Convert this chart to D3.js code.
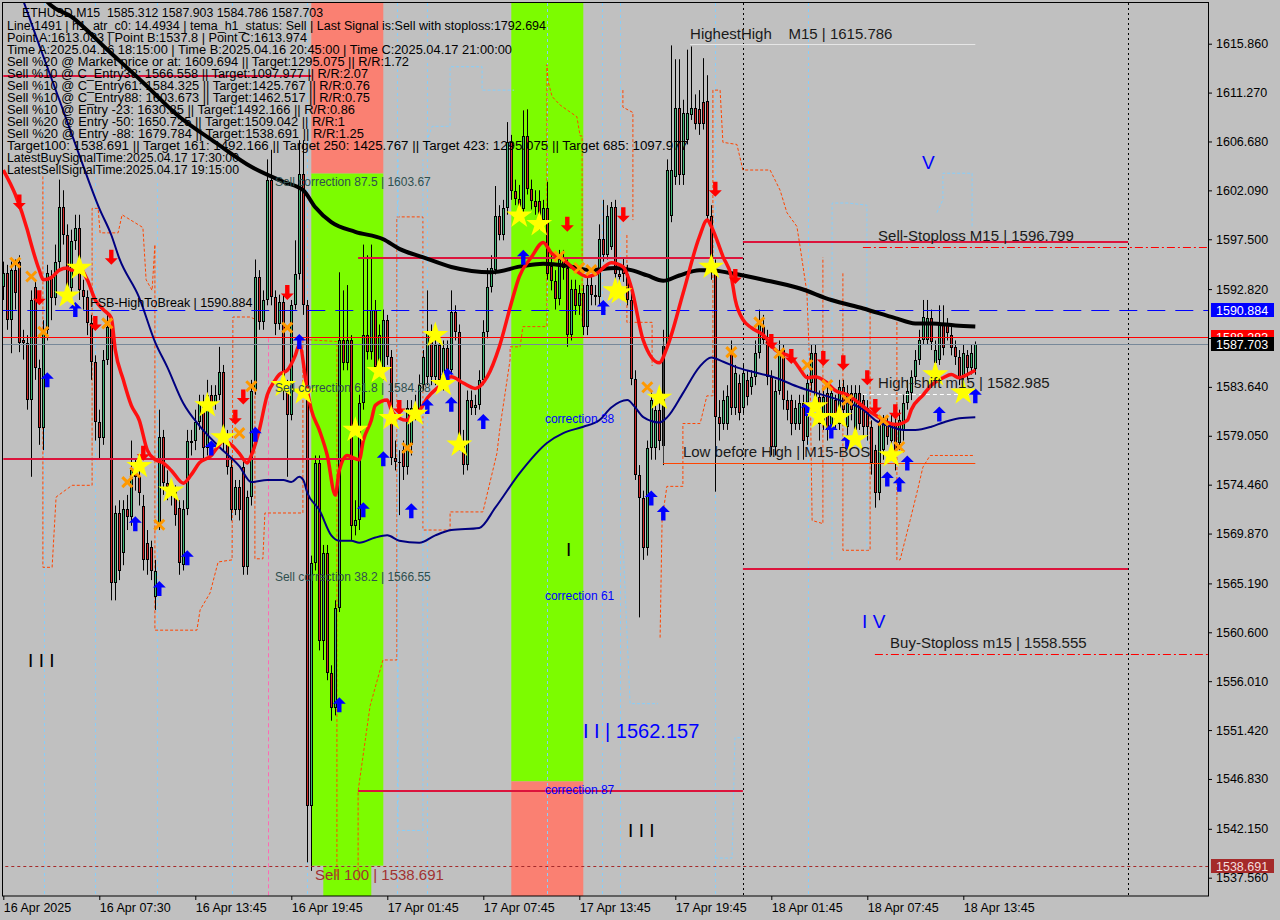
<!DOCTYPE html>
<html><head><meta charset="utf-8">
<script src="https://cdn.jsdelivr.net/npm/d3@7/dist/d3.min.js"></script>
<style>
html,body{margin:0;padding:0;background:#c0c0c0;}
svg{display:block;font-family:"Liberation Sans",Arial,sans-serif;}
</style></head><body>
<svg id="chart" width="1280" height="920"></svg>
<script>
// ---------------- DATA ----------------
const timeLabels=["16 Apr 2025","16 Apr 07:30","16 Apr 13:45","16 Apr 19:45","17 Apr 01:45","17 Apr 07:45","17 Apr 13:45","17 Apr 19:45","18 Apr 01:45","18 Apr 07:45","18 Apr 13:45"];
const timeLabelIdx=[0,24,48,72,96,120,144,168,192,216,240];
const priceTicks=[1615.860,1611.270,1606.680,1602.090,1597.500,1592.820,1588.230,1583.640,1579.050,1574.460,1569.870,1565.190,1560.600,1556.010,1551.420,1546.830,1542.150,1537.560];

const opens=[1593.0,1594.3,1589.9,1594.6,1595.4,1588.0,1587.8,1582.4,1593.0,1585.4,
1579.8,1589.0,1594.0,1592.0,1595.4,1600.5,1597.9,1592.9,1597.3,1598.6,
1592.7,1592.1,1589.6,1586.0,1580.3,1578.8,1586.2,1589.3,1565.2,1571.8,
1568.0,1572.2,1571.4,1575.8,1575.2,1572.5,1569.0,1568.6,1563.9,1570.8,
1578.9,1574.6,1574.2,1573.9,1572.3,1566.9,1572.2,1578.6,1578.6,1580.3,
1582.1,1577.9,1582.9,1582.1,1582.9,1585.0,1578.6,1576.1,1572.1,1574.2,
1576.1,1566.7,1573.3,1583.3,1594.0,1589.7,1591.8,1603.1,1592.1,1589.5,
1591.6,1583.3,1581.0,1591.3,1594.2,1603.6,1591.3,1544.3,1567.1,1576.5,
1559.8,1568.0,1556.8,1553.5,1562.9,1588.0,1585.9,1588.0,1570.6,1571.1,
1582.1,1588.5,1586.9,1590.9,1585.5,1585.0,1589.9,1586.4,1577.0,1576.6,
1577.7,1576.1,1578.2,1581.7,1581.3,1583.8,1584.6,1588.8,1584.6,1587.6,
1584.3,1587.3,1585.2,1590.7,1588.8,1578.6,1576.3,1582.4,1581.7,1581.9,
1584.3,1588.8,1593.0,1594.6,1599.7,1597.9,1600.4,1606.6,1602.0,1601.3,
1600.3,1607.2,1602.2,1601.1,1601.1,1599.3,1600.4,1595.0,1593.6,1591.9,
1595.6,1594.8,1588.5,1592.8,1591.2,1592.5,1589.3,1593.2,1592.3,1592.1,
1597.5,1596.0,1596.8,1600.5,1594.2,1595.0,1594.2,1591.8,1584.4,1575.4,
1573.2,1568.5,1577.9,1577.9,1581.5,1578.1,1587.5,1599.7,1603.3,1609.8,
1603.5,1606.8,1609.2,1609.8,1609.7,1610.4,1610.5,1599.7,1594.6,1580.8,
1580.2,1580.2,1587.1,1581.7,1584.0,1581.7,1584.3,1583.6,1584.6,1586.8,
1589.3,1588.0,1584.6,1578.0,1583.3,1587.1,1582.4,1582.4,1580.2,1580.2,
1582.1,1578.9,1584.0,1586.8,1582.7,1580.2,1583.1,1579.6,1582.4,1580.2,
1583.6,1579.9,1583.1,1579.6,1583.1,1582.4,1581.7,1579.9,1577.7,1573.7,
1577.7,1580.2,1578.6,1580.2,1578.4,1579.6,1582.1,1583.1,1584.6,1586.2,
1588.0,1588.0,1590.1,1585.9,1586.2,1589.6,1589.5,1588.5,1587.4,1586.4,
1584.6,1586.6,1585.4,1585.312];
const highs=[1595.4,1595.1,1595.4,1595.6,1596.0,1589.0,1588.5,1592.7,1593.7,1586.2,
1589.9,1595.1,1594.6,1597.0,1603.1,1602.1,1598.9,1598.4,1599.8,1599.8,
1593.7,1592.7,1590.4,1586.6,1581.5,1587.1,1590.4,1589.9,1572.5,1573.0,
1573.0,1573.5,1578.6,1576.8,1575.8,1573.5,1570.2,1569.2,1567.4,1581.5,
1579.6,1575.8,1574.9,1574.4,1573.0,1573.0,1579.6,1579.6,1581.5,1582.9,
1582.9,1584.3,1583.8,1583.8,1587.4,1585.7,1579.6,1576.8,1574.9,1574.9,
1576.8,1573.9,1584.3,1595.6,1594.6,1592.7,1605.0,1605.9,1592.7,1592.3,
1592.3,1584.3,1591.8,1597.4,1606.8,1606.8,1591.8,1567.8,1577.2,1577.2,
1568.8,1568.8,1557.5,1563.6,1594.4,1592.7,1593.2,1588.5,1573.0,1582.9,
1597.0,1596.0,1597.0,1591.8,1589.5,1590.9,1590.4,1587.1,1578.6,1577.7,
1578.6,1582.4,1582.4,1582.9,1584.8,1587.1,1592.7,1589.5,1588.5,1588.5,
1588.0,1588.0,1592.7,1591.3,1589.5,1579.6,1583.3,1583.3,1582.9,1585.2,
1589.9,1594.8,1596.0,1602.5,1600.7,1601.2,1608.5,1607.3,1603.1,1602.6,
1609.6,1609.7,1603.1,1602.1,1602.1,1601.2,1602.9,1596.0,1594.6,1596.5,
1596.5,1595.6,1593.7,1593.7,1593.2,1593.2,1594.2,1594.2,1593.2,1598.9,
1601.2,1600.7,1601.0,1601.2,1595.1,1595.7,1595.1,1592.7,1585.2,1576.3,
1573.9,1578.6,1583.3,1582.4,1582.4,1589.0,1605.0,1615.7,1614.4,1614.4,
1610.6,1615.3,1615.6,1611.1,1611.5,1614.5,1612.9,1600.7,1595.6,1582.4,
1583.3,1583.8,1588.0,1585.7,1584.8,1585.7,1585.2,1585.2,1588.0,1590.9,
1590.4,1589.0,1585.2,1584.3,1588.0,1587.6,1583.3,1582.9,1582.4,1582.9,
1582.9,1584.8,1587.6,1587.6,1583.3,1583.3,1583.8,1583.8,1582.9,1584.3,
1584.3,1583.8,1583.8,1583.8,1583.8,1582.9,1582.4,1580.5,1578.2,1581.0,
1581.0,1581.0,1581.0,1581.0,1581.5,1582.9,1584.3,1585.2,1587.1,1589.0,
1591.8,1591.8,1590.9,1588.0,1591.3,1591.3,1590.1,1589.5,1588.0,1587.1,
1587.6,1587.1,1587.6,1587.903];
const lows=[1591.8,1589.0,1586.8,1590.9,1586.9,1586.2,1581.5,1575.2,1584.3,1578.2,
1577.7,1588.0,1589.9,1591.3,1594.6,1597.0,1591.8,1592.3,1596.5,1591.8,
1590.9,1588.5,1584.3,1578.6,1576.8,1578.2,1585.7,1563.6,1563.6,1565.5,
1566.9,1570.2,1570.6,1573.9,1572.5,1566.4,1566.0,1565.5,1562.7,1570.2,
1573.5,1573.0,1572.5,1570.6,1566.0,1566.4,1571.6,1577.2,1577.7,1579.6,
1576.8,1577.2,1581.5,1581.5,1582.4,1577.7,1575.4,1571.1,1571.6,1571.1,
1566.0,1566.0,1572.5,1582.9,1589.0,1589.0,1591.3,1591.3,1588.5,1589.0,
1582.4,1575.2,1580.5,1590.9,1593.7,1590.4,1539.0,1538.2,1566.4,1558.9,
1558.0,1556.1,1552.3,1552.8,1562.5,1585.2,1585.2,1569.2,1569.7,1570.2,
1581.5,1586.2,1586.2,1584.8,1584.8,1584.3,1585.7,1576.3,1575.8,1571.6,
1574.9,1575.4,1577.2,1580.5,1580.5,1583.3,1583.8,1583.8,1583.8,1583.3,
1583.3,1584.3,1584.8,1588.0,1577.7,1575.4,1575.8,1581.0,1581.0,1581.5,
1583.8,1588.2,1592.5,1594.2,1597.4,1597.4,1599.8,1601.2,1600.7,1599.8,
1599.8,1601.7,1600.3,1599.8,1598.4,1598.6,1593.7,1592.7,1590.9,1591.3,
1593.7,1587.4,1588.0,1590.4,1590.4,1588.5,1588.5,1591.3,1591.3,1591.3,
1595.4,1595.6,1596.5,1593.7,1593.5,1593.5,1591.3,1583.8,1574.9,1562.0,
1567.4,1567.8,1576.8,1576.8,1577.7,1576.3,1587.1,1599.1,1602.6,1602.6,
1602.6,1606.4,1608.7,1607.8,1607.3,1607.8,1599.3,1593.7,1573.8,1578.6,
1579.6,1579.6,1581.0,1581.0,1580.5,1581.0,1581.9,1582.9,1583.8,1586.3,
1587.6,1583.8,1577.2,1577.2,1582.9,1581.5,1580.5,1579.1,1579.6,1579.6,
1576.8,1578.2,1583.3,1581.9,1578.6,1579.6,1578.6,1579.1,1579.6,1579.6,
1580.5,1579.1,1580.5,1578.6,1579.6,1579.1,1578.6,1575.4,1572.3,1573.0,
1576.8,1578.2,1577.7,1575.8,1577.7,1578.6,1581.5,1582.4,1583.8,1585.7,
1587.6,1587.6,1587.1,1585.2,1585.7,1586.6,1588.0,1586.6,1585.7,1583.8,
1583.8,1584.3,1584.8,1584.786];
const closes=[1594.3,1589.9,1594.6,1592.5,1587.8,1587.8,1582.4,1591.8,1585.4,1579.8,
1589.0,1594.3,1592.0,1595.4,1600.5,1597.9,1592.9,1597.3,1598.6,1592.7,
1592.1,1589.6,1586.0,1580.3,1578.8,1586.2,1589.3,1565.2,1571.8,1566.4,
1572.2,1571.4,1575.8,1575.2,1573.7,1567.4,1567.4,1566.4,1566.4,1578.9,
1574.6,1574.2,1573.9,1571.6,1567.1,1572.2,1578.6,1578.4,1580.3,1582.1,
1577.9,1582.9,1582.1,1582.9,1585.0,1578.6,1576.1,1572.1,1574.2,1572.1,
1566.7,1573.3,1583.3,1594.0,1589.7,1591.8,1603.1,1592.1,1589.5,1591.6,
1583.3,1581.0,1591.3,1594.2,1603.6,1591.3,1544.3,1567.1,1576.5,1559.8,
1568.0,1556.8,1553.5,1562.9,1588.0,1585.9,1588.0,1570.6,1571.1,1582.1,
1588.5,1586.9,1590.9,1585.5,1588.5,1589.9,1586.4,1577.0,1576.6,1576.5,
1576.1,1581.7,1581.7,1581.3,1583.8,1586.4,1588.8,1584.6,1587.6,1584.3,
1587.3,1585.2,1590.7,1588.8,1578.6,1576.3,1582.4,1581.7,1581.9,1584.3,
1588.8,1593.0,1594.8,1599.7,1597.9,1600.4,1606.6,1602.0,1601.3,1600.3,
1607.2,1602.2,1601.1,1600.5,1599.3,1600.4,1594.2,1593.6,1591.9,1595.6,
1594.8,1588.5,1592.8,1591.2,1592.5,1589.3,1593.2,1592.3,1592.1,1597.5,
1596.0,1599.7,1600.5,1594.2,1594.0,1594.2,1591.8,1584.4,1575.4,1573.2,
1568.5,1577.9,1582.4,1581.5,1578.6,1587.5,1604.0,1604.0,1609.8,1603.5,
1609.4,1609.4,1609.8,1608.3,1608.3,1608.3,1599.7,1594.6,1580.8,1580.2,
1582.4,1582.8,1581.7,1584.9,1581.2,1584.9,1582.7,1584.6,1586.8,1589.9,
1588.0,1584.6,1578.0,1583.3,1587.1,1582.4,1581.5,1580.2,1581.7,1582.1,
1578.6,1584.0,1586.8,1582.7,1580.2,1582.7,1579.6,1583.1,1580.2,1583.6,
1581.5,1583.1,1581.5,1583.1,1580.2,1579.9,1579.9,1576.5,1573.7,1580.2,
1580.2,1578.9,1580.2,1577.7,1580.5,1582.1,1583.3,1584.6,1586.2,1588.0,
1590.2,1590.1,1587.9,1587.1,1589.6,1587.3,1588.7,1587.3,1586.4,1584.6,
1586.8,1585.4,1586.8,1587.703];

// moving averages (bar index, price)
const redIdx=[0,3,6,7,9,10,12,14,16,17,19,21,23,25,27,28,30,32,34,36,38,40,42,45,47,49,52,54,55,57,59,61,62,64,66,68,69,71,73,74,76,77,79,81,83,84,86,88,89,90,92,93,96,97,99,101,102,104,106,109,112,115,118,121,124,127,129,132,135,137,140,143,146,148,152,155,157,160,164,166,170,174,176,177,180,182,183,185,187,190,192,193,197,199,201,203,206,208,211,213,216,218,221,223,226,227,230,232,235,237,239,241,243];
const redVal=[1604.0,1601.7,1598.4,1597.0,1594.6,1593.7,1593.9,1594.6,1594.8,1594.6,1594.8,1593.7,1591.8,1590.9,1590.1,1587.1,1584.3,1581.9,1580.5,1577.7,1576.8,1576.5,1575.8,1574.6,1575.4,1576.5,1577.2,1578.2,1578.6,1578.2,1577.4,1576.5,1577.2,1579.6,1582.9,1584.3,1584.8,1585.2,1586.6,1587.6,1583.3,1581.5,1579.6,1577.2,1573.5,1575.8,1577.2,1576.9,1576.8,1578.6,1580.5,1581.9,1582.4,1581.5,1580.7,1580.5,1581.0,1581.4,1582.6,1583.7,1584.6,1584.0,1583.5,1584.6,1587.4,1591.5,1594.0,1595.8,1597.2,1596.2,1595.6,1594.6,1594.0,1594.2,1595.3,1594.9,1593.0,1588.0,1585.9,1587.4,1592.5,1597.7,1599.3,1598.7,1595.8,1594.0,1591.8,1589.9,1589.2,1588.5,1587.6,1587.1,1586.4,1585.4,1584.5,1584.6,1584.0,1583.3,1582.9,1582.4,1581.5,1581.0,1580.3,1580.1,1580.5,1581.5,1582.9,1583.8,1584.5,1584.8,1584.5,1584.8,1585.2];
const navyIdx=[3,9,14,19,24,27,29,34,38,41,45,49,54,59,62,66,70,72,74,75,76,79,82,84,87,89,93,96,99,104,108,112,119,123,129,136,140,145,149,152,156,158,160,164,166,170,174,177,180,184,189,193,199,203,209,215,218,222,225,228,232,235,239,243];
const navyVal=[1622.0,1615.7,1610.6,1605.4,1600.4,1597.9,1595.7,1592.0,1587.8,1585.5,1582.1,1580.0,1578.0,1576.2,1574.7,1574.9,1574.9,1574.7,1575.2,1574.9,1573.7,1572.1,1569.7,1569.2,1569.2,1569.0,1569.5,1569.7,1569.2,1569.0,1569.7,1570.2,1570.4,1572.3,1575.5,1578.4,1579.3,1579.9,1580.5,1581.7,1582.4,1581.7,1580.8,1580.3,1580.8,1583.1,1585.5,1586.4,1586.0,1585.4,1584.9,1584.5,1583.6,1583.1,1582.4,1581.5,1580.5,1579.9,1579.6,1579.6,1579.9,1580.3,1580.7,1580.8];
const blackIdx=[8,11,17,26,35,44,53,62,70,75,78,82,88,95,99,105,112,122,130,135,141,147,153,157,161,165,169,174,177,182,190,199,207,215,223,228,232,238,243];
const blackVal=[1622.0,1619.8,1618.4,1615.3,1612.2,1609.0,1606.6,1604.3,1602.9,1602.1,1600.5,1599.1,1598.2,1597.5,1596.6,1595.8,1594.9,1594.4,1595.0,1595.2,1595.0,1594.6,1594.8,1594.6,1594.1,1593.6,1594.1,1594.6,1594.6,1594.3,1593.7,1592.9,1591.8,1591.0,1590.1,1589.6,1589.6,1589.4,1589.3];

// signal markers
const starIdx=[16,19,34,42,51,55,70,75,88,94,97,103,108,110,114,129,134,153,154,164,177,203,204,209,213,222,233,240];
const starVal=[1592.2,1594.8,1576.2,1573.9,1581.9,1578.9,1583.8,1583.1,1579.6,1585.1,1580.7,1581.1,1588.5,1583.9,1578.2,1599.7,1598.9,1592.7,1592.5,1582.6,1594.9,1581.8,1580.8,1580.8,1578.7,1577.2,1584.8,1583.1];
const crossIdx=[3,7,10,26,31,33,39,59,62,71,101,139,144,147,161,182,189,194,201,206,211,220,224];
const crossVal=[1595.3,1594.0,1588.8,1589.6,1574.7,1575.6,1570.7,1579.3,1583.7,1589.2,1577.9,1595.9,1594.8,1594.6,1583.6,1586.9,1589.7,1586.8,1585.7,1583.8,1582.4,1580.5,1578.0];
const upIdx=[11,18,33,39,46,52,63,74,84,90,95,102,106,111,112,120,130,150,162,165,201,207,211,221,224,226,234,243];
const upVal=[1584.3,1590.9,1570.8,1564.7,1567.6,1577.9,1579.2,1587.9,1553.8,1572.1,1576.9,1572.0,1581.8,1584.7,1582.0,1580.4,1595.8,1591.1,1573.2,1571.8,1581.6,1579.5,1578.5,1575.0,1574.5,1576.5,1581.1,1582.8];
const downIdx=[4,9,23,27,35,58,60,71,99,141,155,178,183,192,197,205,210,216,218,223];
const downVal=[1601.0,1592.0,1589.6,1595.8,1577.4,1580.8,1582.7,1592.5,1581.7,1598.9,1599.8,1602.2,1594.0,1587.9,1586.5,1586.3,1585.9,1584.5,1581.8,1581.3];

// zones (bar index range, price range)
const zoneStart=[77,77,80,127,127];
const zoneEnd=[95,95,92,145,145];
const zoneHigh=[1625,1603.67,1538.691,1625,1546.6];
const zoneLow=[1603.67,1538.691,1530,1546.6,1530];
const zoneKind=["sell","buy","buy","buy","sell"];

// horizontal levels
const levelPrice=[1612.8,1576.87,1595.74,1545.7,1597.25,1566.55];
const levelFrom=[0,0,88.7,88.7,184.9,184.9];
const levelTo=[77,88.7,184.9,184.9,281.2,281.2];

// step channels [bar index, price]
const orange1=[[9.9,1603.4],[9.9,1566.7],[12.2,1566.7],[13.2,1573.3],[17.2,1574.4],[22.2,1574.4],[22.2,1600.4],[23.7,1600.4],[24.2,1598.1],[28.7,1598.1],[29.7,1599.8],[34.9,1598.6],[35.7,1593.7],[37.2,1592.7],[37.9,1597.0],[37.9,1560.8],[48.4,1560.8],[49.2,1562.7],[51.7,1564.3],[53.7,1567.2],[57.2,1567.4],[57.4,1590.2],[61.7,1590.2],[62.9,1590.0],[62.9,1567.5],[64.9,1567.5],[65.4,1571.8],[74.9,1571.8],[74.9,1588.1],[83.4,1587.9],[83.4,1537.7]];
const orange2=[[88.7,1537.3],[88.7,1545.7],[91.7,1553.7],[94.9,1558.0],[98.4,1558.0],[98.4,1599.6],[104.9,1599.6],[104.9,1570.2],[111.7,1570.2],[111.7,1571.9],[119.9,1571.9],[123.4,1577.4],[124.2,1579.9],[126.7,1586.2],[126.7,1587.4],[129.2,1587.4],[129.9,1589.3],[135.9,1589.3],[135.9,1613.9],[136.2,1612.3],[137.2,1610.9],[139.2,1610.1],[143.4,1609.0],[144.2,1607.2],[144.7,1607.2],[144.7,1589.6]];
const orange3=[[154.9,1611.5],[154.9,1609.9],[157.4,1609.4],[157.4,1599.3]];
const orange4=[[155.9,1597.9],[155.9,1589.7],[162.2,1589.7],[162.2,1585.6]];
const orange5=[[164.2,1560.1],[164.7,1571.2],[165.9,1574.3],[169.9,1574.3],[169.9,1580.2],[174.2,1580.2],[175.9,1582.8],[177.4,1582.8],[177.4,1611.5],[179.2,1611.5],[179.9,1606.6],[183.4,1606.4],[184.9,1604.0],[191.7,1604.0],[194.2,1602.1],[195.9,1600.0],[198.4,1598.7],[199.2,1596.8],[200.9,1592.5],[201.7,1584.6],[202.2,1571.1],[204.9,1570.8],[204.9,1595.8]];
const orange6=[[209.9,1594.3],[209.9,1568.3],[216.7,1568.3],[216.7,1590.6]];
const orange7=[[223.4,1590.2],[223.4,1567.4],[224.2,1567.4],[226.7,1571.1],[228.4,1573.7],[229.9,1576.1],[231.7,1577.2],[242.9,1577.2]];
const sky1=[[105.4,1606.2],[107.2,1608.1],[111.7,1608.1],[111.7,1613.7],[119.7,1613.7],[119.7,1611.5],[127.7,1611.5]];
const sky2=[[98.7,1605.0],[98.7,1542.0],[104.9,1542.0],[104.9,1605.0]];
const sky3=[[154.9,1569.2],[156.7,1553.9],[163.7,1553.9]];
const sky4=[[177.9,1539.4],[182.2,1539.4],[182.9,1550.7],[184.9,1550.7]];
const sky5=[[233.4,1600.0],[234.9,1601.2],[234.9,1603.7],[242.2,1603.7],[242.2,1598.7]];
const sky6=[[207.2,1567.4],[207.2,1600.9],[211.2,1600.9],[215.9,1600.7],[215.9,1568.3]];
const skyVertical=[10.2,22.9,38.5,57.2,75.9,98.4,105.9,135.9,149.7,154.2,177.9,201.2];
const dottedVertical=[184.9,281.2];

const infoLines=["Line:1491 | h1_atr_c0: 14.4934 | tema_h1_status: Sell | Last Signal is:Sell with stoploss:1792.694",
"Point A:1613.083 | Point B:1537.8 | Point C:1613.974",
"Time A:2025.04.16 18:15:00 | Time B:2025.04.16 20:45:00 | Time C:2025.04.17 21:00:00",
"Sell %20 @ Market price or at: 1609.694 || Target:1295.075 || R/R:1.72",
"Sell %10 @ C_Entry38: 1566.558 || Target:1097.977 || R/R:2.07",
"Sell %10 @ C_Entry61: 1584.325 || Target:1425.767 || R/R:0.76",
"Sell %10 @ C_Entry88: 1603.673 || Target:1462.517 || R/R:0.75",
"Sell %10 @ Entry -23: 1630.85 || Target:1492.166 || R/R:0.86",
"Sell %20 @ Entry -50: 1650.725 || Target:1509.042 || R/R:1",
"Sell %20 @ Entry -88: 1679.784 || Target:1538.691 || R/R:1.25",
"Target100: 1538.691 || Target 161: 1492.166 || Target 250: 1425.767 || Target 423: 1295.075 || Target 685: 1097.977",
"LatestBuySignalTime:2025.04.17 17:30:00",
"LatestSellSignalTime:2025.04.17 19:15:00"];
const headerLine="ETHUSD,M15  1585.312 1587.903 1584.786 1587.703";

// ---------------- RENDER ----------------
const W=1280,H=920;
const P={l:3,t:3,r:1208,b:896};
const x=d3.scaleLinear().domain([0,300]).range([3.3,1203.3]);
const y=d3.scaleLinear().domain([1537.56,1615.86]).range([877.7,43.7]);
const svg=d3.select("#chart");
svg.append("rect").attr("width",W).attr("height",H).attr("fill","#c0c0c0");
svg.append("defs").append("clipPath").attr("id","clip").append("rect")
  .attr("x",P.l).attr("y",P.t).attr("width",P.r-P.l).attr("height",P.b-P.t);
const g=svg.append("g").attr("clip-path","url(#clip)");

// zones
g.selectAll("rect.zone").data(zoneStart.map((s,i)=>({s,e:zoneEnd[i],hi:zoneHigh[i],lo:zoneLow[i],k:zoneKind[i]})))
 .join("rect").attr("x",d=>x(d.s)).attr("width",d=>x(d.e)-x(d.s))
 .attr("y",d=>y(d.hi)).attr("height",d=>y(d.lo)-y(d.hi))
 .attr("fill",d=>d.k==="sell"?"#fa8072":"#7cfc00");

// vertical guide lines
g.selectAll("line.sky").data(skyVertical).join("line")
 .attr("x1",d=>Math.round(x(d))+0.5).attr("x2",d=>Math.round(x(d))+0.5).attr("y1",P.t).attr("y2",P.b)
 .attr("stroke","#87cefa").attr("stroke-dasharray","3,3");
g.append("line").attr("x1",Math.round(x(66.2))+0.5).attr("x2",Math.round(x(66.2))+0.5).attr("y1",y(1588.2)).attr("y2",P.b)
 .attr("stroke","#ff69b4").attr("stroke-dasharray","4,3");
g.selectAll("line.dotv").data(dottedVertical).join("line")
 .attr("x1",d=>Math.round(x(d))+0.5).attr("x2",d=>Math.round(x(d))+0.5).attr("y1",P.t).attr("y2",P.b)
 .attr("stroke","#000").attr("stroke-dasharray","2,3");

// step channels
const stepLine=d3.line().x(d=>x(d[0])).y(d=>y(d[1]));
[orange1,orange2,orange3,orange4,orange5,orange6,orange7].forEach(a=>{
  g.append("path").attr("d",stepLine(a)).attr("fill","none").attr("stroke","#ff4500").attr("stroke-width",1).attr("stroke-dasharray","3,2");
});
[sky1,sky2,sky3,sky4,sky5,sky6].forEach(a=>{
  g.append("path").attr("d",stepLine(a)).attr("fill","none").attr("stroke","#87cefa").attr("stroke-width",1).attr("stroke-dasharray","3,2");
});

// candles
const bars=closes.map((c,i)=>({i,o:opens[i],h:highs[i],l:lows[i],c}));
const cg=g.append("g");
bars.forEach(d=>{
  const X=Math.round(x(d.i));
  const top=Math.round(y(Math.max(d.o,d.c))), bot=Math.round(y(Math.min(d.o,d.c)));
  cg.append("line").attr("x1",X+0.5).attr("x2",X+0.5).attr("y1",y(d.h)).attr("y2",y(d.l)).attr("stroke","#000").attr("stroke-width",1);
  const hgt=Math.max(1,bot-top);
  cg.append("rect").attr("x",X-1).attr("y",top).attr("width",3).attr("height",hgt).attr("fill","#000");
  if(hgt>2) cg.append("rect").attr("x",X).attr("y",top+1).attr("width",1).attr("height",hgt-2)
     .attr("fill",d.c>=d.o?"#3cb371":"#d02828");
});

// horizontal levels
const hl=(p,i0,i1,color,w,dash)=>{
  const yy=Math.round(y(p))+(w%2?0.5:0);
  const l=g.append("line").attr("x1",x(i0)).attr("x2",x(i1)).attr("y1",yy).attr("y2",yy).attr("stroke",color).attr("stroke-width",w);
  if(dash) l.attr("stroke-dasharray",dash);
};
levelPrice.forEach((p,k)=>hl(p,levelFrom[k],levelTo[k],"#dc143c",2));
hl(1588.283,-1,302,"#ff0000",1);
hl(1587.703,-1,302,"#778899",1);
hl(1590.884,-1,302,"#0000ff",1,"18,10");
hl(1538.691,-1,302,"#a52a2a",1,"3,3");
hl(1596.799,214.9,302,"#ff0000",1,"8,3,2,3");
hl(1558.555,217.9,302,"#ff0000",1,"8,3,2,3");
hl(1576.5,164.9,243,"#ff4500",1);
hl(1582.985,214.9,242.5,"#ffffff",1,"4,3");
hl(1615.786,171.7,243,"#e6e6e6",1);
g.append("line").attr("x1",Math.round(x(164.9))+0.5).attr("x2",Math.round(x(164.9))+0.5).attr("y1",y(1587.9)).attr("y2",y(1576.5)).attr("stroke","#404040");

// moving averages
const ma=(idx,val,color,w)=>{
  const pts=idx.map((d,i)=>[d,val[i]]);
  g.append("path").attr("d",d3.line().x(d=>x(d[0])).y(d=>y(d[1])).curve(d3.curveMonotoneX)(pts))
   .attr("fill","none").attr("stroke",color).attr("stroke-width",w).attr("stroke-linejoin","round");
};
ma(blackIdx,blackVal,"#000000",4);
ma(navyIdx,navyVal,"#000080",2);
ma(redIdx,redVal,"#ff1010",3.5);

// markers
const upPath="M0,-7.5L6.5,-1L2.2,-1L2.2,7.5L-2.2,7.5L-2.2,-1L-6.5,-1Z";
const downPath="M0,7.5L6.5,1L2.2,1L2.2,-7.5L-2.2,-7.5L-2.2,1L-6.5,1Z";
g.selectAll("path.up").data(upIdx.map((d,i)=>[d,upVal[i]])).join("path")
 .attr("d",upPath).attr("transform",d=>`translate(${x(d[0])},${y(d[1])})`).attr("fill","#0000ff");
g.selectAll("path.dn").data(downIdx.map((d,i)=>[d,downVal[i]])).join("path")
 .attr("d",downPath).attr("transform",d=>`translate(${x(d[0])},${y(d[1])})`).attr("fill","#ff0000");
g.selectAll("path.cross").data(crossIdx.map((d,i)=>[d,crossVal[i]])).join("path")
 .attr("d","M-5,-5L5,5M5,-5L-5,5").attr("transform",d=>`translate(${x(d[0])},${y(d[1])})`)
 .attr("stroke","#ff9900").attr("stroke-width",3).attr("fill","none");
g.selectAll("path.star").data(starIdx.map((d,i)=>[d,starVal[i]])).join("path")
 .attr("d",d3.symbol().type(d3.symbolStar).size(210)).attr("transform",d=>`translate(${x(d[0])},${y(d[1])})`)
 .attr("fill","#ffff00");

// labels on chart
const lab=(t,i,p,size,color)=>g.append("text").attr("x",x(i)).attr("y",y(p)).attr("font-size",size).attr("fill",color).attr("xml:space","preserve").text(t);
lab("HighestHigh    M15 | 1615.786",171.7,1616.3,15,"#1a1a1a");
lab("Sell-Stoploss M15 | 1596.799",218.7,1597.3,15,"#1a1a1a");
lab("High-shift m15 | 1582.985",218.7,1583.53,15,"#1a1a1a");
lab("Low before High | M15-BOS",169.9,1577.06,15,"#1a1a1a");
lab("Buy-Stoploss m15 | 1558.555",221.7,1559.12,15,"#1a1a1a");
lab("Sell 100 | 1538.691",77.9,1537.34,15,"#a03232");
lab("I I | 1562.157",144.9,1550.67,20,"#0000ff");
lab("correction 38",135.4,1580.25,12,"#0000ff");
lab("correction 61",135.4,1563.63,12,"#0000ff");
lab("correction 87",135.4,1545.42,12,"#0000ff");
lab("Sell correction 87.5 | 1603.67",67.9,1602.5,12,"#2f4f4f");
lab("Sell correction 61.8 | 1584.38",67.9,1583.16,12,"#2f4f4f");
lab("Sell correction 38.2 | 1566.55",67.9,1565.41,12,"#2f4f4f");
lab("FSB-HighToBreak | 1590.884",21.7,1591.14,12.5,"#000");
lab("I I I",6.2,1557.34,19,"#000");
lab("I",140.7,1567.73,19,"#000");
lab("I I I",156.2,1541.38,19,"#000");
lab("V",229.7,1604.1,19,"#0000ff");
lab("I V",214.7,1561.0,19,"#0000ff");

// info text block
const infoW=[539,300,505,402,361,363,363,348,338,357,681,232,232];
svg.append("text").attr("x",22).attr("y",17).attr("font-size",12).attr("fill","#000")
  .attr("textLength",301).attr("lengthAdjust","spacingAndGlyphs").attr("xml:space","preserve").text(headerLine);
infoLines.forEach((t,k)=>{
  svg.append("text").attr("x",7).attr("y",29.5+k*12.05).attr("font-size",12).attr("fill","#000")
   .attr("textLength",infoW[k]).attr("lengthAdjust","spacingAndGlyphs").text(t);
});

// frame
svg.append("rect").attr("x",2.5).attr("y",2.5).attr("width",1206).attr("height",893.5).attr("fill","none").attr("stroke","#000");

// right axis
const ax=svg.append("g").attr("transform",`translate(${P.r},0)`)
 .call(d3.axisRight(y).tickValues(priceTicks).tickFormat(d3.format(".3f")).tickSize(4).tickPadding(4));
ax.select(".domain").remove();
ax.selectAll("line").attr("stroke","#000");
ax.selectAll("text").attr("font-size",12.5).attr("fill","#000").attr("font-family","Liberation Sans, Arial, sans-serif");

// price boxes
const boxPrice=[1590.884,1588.283,1587.703,1538.691];
const boxColor=["#0000ff","#ff0000","#000000","#a52a2a"];
const boxText=["#ffffff","#ffffff","#ffffff","#f4dede"];
boxPrice.forEach((p,k)=>{
  const yy=Math.round(y(p));
  svg.append("rect").attr("x",1211).attr("y",yy-7).attr("width",63).attr("height",14).attr("fill",boxColor[k]);
  svg.append("text").attr("x",1216).attr("y",yy+4.5).attr("font-size",12.5).attr("fill",boxText[k]).text(d3.format(".3f")(p));
});

// bottom axis
const bx=svg.append("g").attr("transform",`translate(0,${P.b})`)
 .call(d3.axisBottom(x).tickValues(timeLabelIdx).tickFormat((d,i)=>timeLabels[i]).tickSize(4).tickPadding(3));
bx.select(".domain").remove();
bx.selectAll("line").attr("stroke","#000");
bx.selectAll("text").attr("text-anchor","start").attr("font-size",12.5).attr("fill","#000").attr("font-family","Liberation Sans, Arial, sans-serif");
</script>
</body></html>
